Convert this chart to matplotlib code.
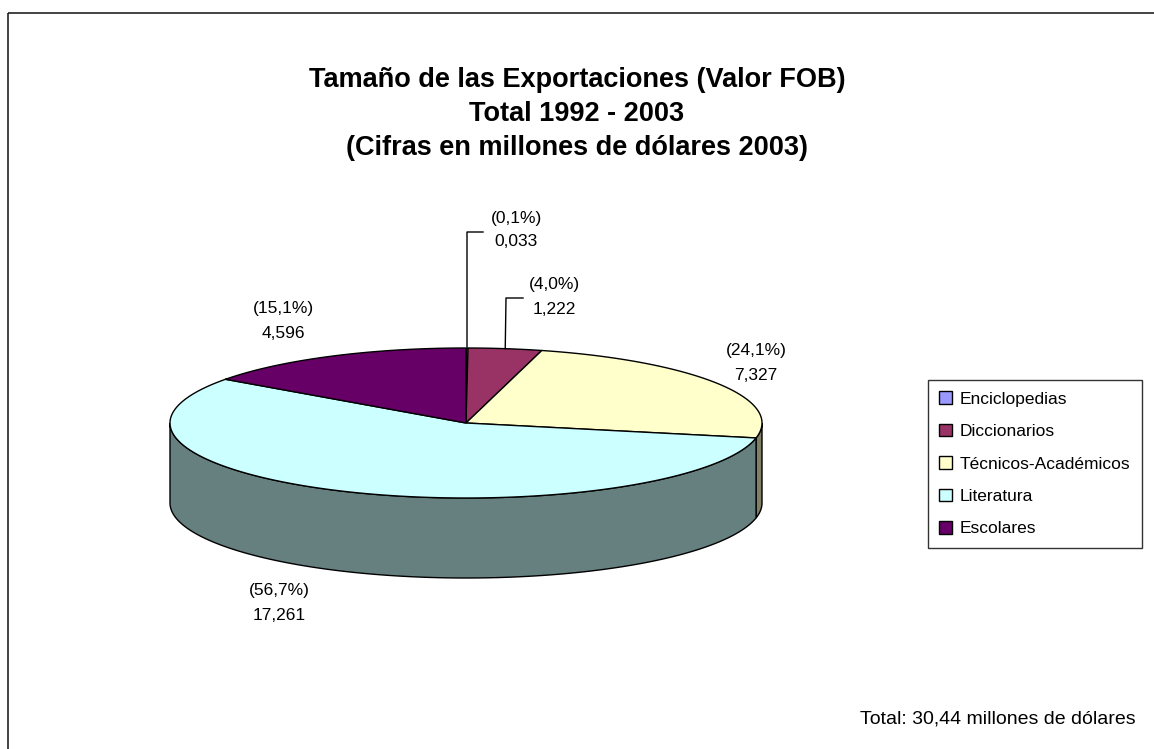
import numpy as np
import matplotlib
matplotlib.use("Agg")
import matplotlib.pyplot as plt
from matplotlib.patches import Patch, Polygon, Rectangle

plt.rcParams['font.family'] = ['Liberation Sans', 'DejaVu Sans']

# Data (millones de dólares 2003)
categories = ["Enciclopedias", "Diccionarios", "Técnicos-Académicos", "Literatura", "Escolares"]
values = [0.033, 1.222, 7.327, 17.261, 4.596]
pct_labels = ["(0,1%)", "(4,0%)", "(24,1%)", "(56,7%)", "(15,1%)"]
value_labels = ["0,033", "1,222", "7,327", "17,261", "4,596"]
colors = ["#9999FF", "#993366", "#FFFFCC", "#CCFFFF", "#660066"]
title_lines = ["Tamaño de las Exportaciones (Valor FOB)", "Total 1992 - 2003",
               "(Cifras en millones de dólares 2003)"]
total_text = "Total: 30,44 millones de dólares"

# Layout (pixels)
W, H = 1154, 749
CX, CY = 466, 423
RX, RY = 296, 75
DEPTH = 80
# label centre positions and optional leader elbows
label_pos = [(516, 230), (554, 297), (756, 363), (279, 603), (283, 321)]
leader_elbow = [(467, 232), (506, 298), None, None, None]
leader_end = [(483, 232), (523, 298), None, None, None]


def rim(theta_deg, drop=0.0):
    # point on the pie rim, angle measured clockwise from 12 o'clock
    t = np.radians(theta_deg)
    return CX + RX * np.sin(t), CY - RY * np.cos(t) + drop


fig = plt.figure(figsize=(W / 100, H / 100), dpi=100)
ax = fig.add_axes([0, 0, 1, 1])
ax.set_xlim(0, W)
ax.set_ylim(H, 0)
ax.axis('off')

# outer frame (only left and top edges visible)
ax.add_patch(Rectangle((8, 13), W + 20, H + 20, fill=False, edgecolor='#222222', lw=1.2))

total = sum(values)
bounds = np.concatenate([[0], np.cumsum(values) / total * 360])

# side walls (front half only: 90..270 deg clockwise from top)
for i, col in enumerate(colors):
    a, b = max(bounds[i], 90), min(bounds[i + 1], 270)
    if b <= a:
        continue
    th = np.linspace(a, b, 120)
    xt, yt = rim(th)
    xb, yb = rim(th[::-1], DEPTH)
    rgb = np.array(matplotlib.colors.to_rgb(col)) * 0.5
    ax.add_patch(Polygon(np.column_stack([np.r_[xt, xb], np.r_[yt, yb]]),
                         closed=True, facecolor=rgb, edgecolor='black', lw=1.0))

# top faces
for i, col in enumerate(colors):
    th = np.linspace(bounds[i], bounds[i + 1], 200)
    xt, yt = rim(th)
    pts = np.column_stack([np.r_[CX, xt], np.r_[CY, yt]])
    ax.add_patch(Polygon(pts, closed=True, facecolor=col, edgecolor='black', lw=1.0,
                         joinstyle='round'))

# data labels
for i in range(len(values)):
    lx, ly = label_pos[i]
    ax.text(lx, ly - 12, pct_labels[i], ha='center', va='center', fontsize=12.5)
    ax.text(lx, ly + 12, value_labels[i], ha='center', va='center', fontsize=12.5)
    if leader_elbow[i] is not None:
        mid = (bounds[i] + bounds[i + 1]) / 2
        sx, sy = rim(mid)
        ex, ey = leader_elbow[i]
        fx, fy = leader_end[i]
        ax.plot([sx, ex, fx], [sy, ey, fy], color='black', lw=1.0)

# title
for k, line in enumerate(title_lines):
    ax.text(577, 80 + 34 * k, line, ha='center', va='center', fontsize=19.5,
            fontweight='bold')

ax.text(1136, 719, total_text, ha='right', va='center', fontsize=14)

handles = [Patch(facecolor=c, edgecolor='black', lw=1.0) for c in colors]
leg = fig.legend(handles, categories, loc='upper left',
                 bbox_to_anchor=(928 / W, 1 - 380 / H), borderaxespad=0,
                 frameon=True, fancybox=False, fontsize=12.5,
                 handlelength=0.75, handleheight=0.75, handletextpad=0.45,
                 labelspacing=0.98, borderpad=0.65)
leg.get_frame().set_edgecolor('black')
leg.get_frame().set_linewidth(1.0)

fig.savefig("out.png", dpi=100)
